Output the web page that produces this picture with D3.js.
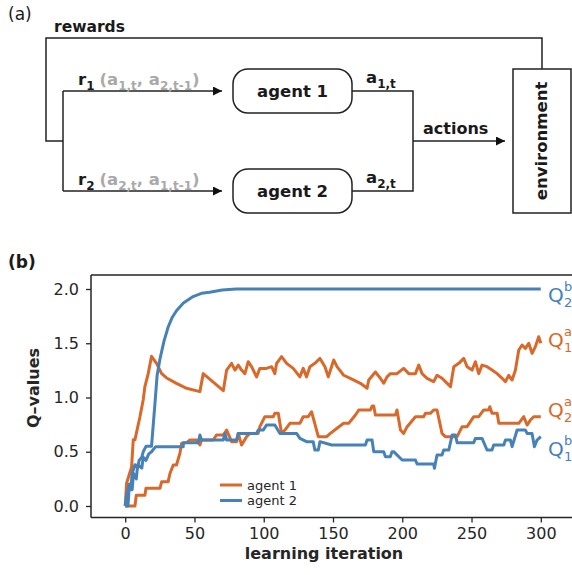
<!DOCTYPE html>
<html><head><meta charset="utf-8">
<script src="https://cdn.jsdelivr.net/npm/d3@7"></script>
<style>body{margin:0;background:#fff}svg{display:block}</style>
</head><body><svg id="c" width="572" height="575"></svg>
<script>
// ---------- data ----------
const iterTicks = [0, 50, 100, 150, 200, 250, 300];
const qTicks = [0, 0.5, 1.0, 1.5, 2.0];
const legendLabels = ["agent 1", "agent 2"];

const q1aIter = [0,1,4.6,5.8,7,10.6,13,14.2,16.6,19,22.6,26.3,29.9,37,44.3,53.9,56.3,70.8,73.2,76.8,79.2,81.6,84,86.4,88.8,91.2,94.8,97.2,102,105.7,108,109.3,112.9,116.5,121.3,126.1,128.5,130.9,133.3,136.9,140.6,144.2,146.6,150.5,152.9,157.7,162.5,169.8,174.6,175.8,180.6,184.2,186.6,189,191.4,196.2,201,204.7,209.5,211.9,214.3,217.9,222.7,225.1,228.7,234.8,237.2,240.8,244.4,246.8,250.4,252.8,255.2,257.6,261.2,264.8,268.5,272.1,274.5,276.9,279.3,281.7,284.1,286.5,288.9,291.3,293.7,296.1,298.5,300];
const q1aVal = [0,0.21,0.36,0.61,0.61,0.82,0.98,1.1,1.22,1.38,1.315,1.22,1.18,1.13,1.085,1.054,1.22,1.063,1.253,1.315,1.253,1.299,1.253,1.22,1.33,1.284,1.19,1.268,1.268,1.284,1.22,1.315,1.377,1.315,1.268,1.19,1.268,1.19,1.284,1.315,1.36,1.284,1.19,1.346,1.284,1.205,1.177,1.131,1.085,1.161,1.235,1.177,1.131,1.19,1.22,1.22,1.268,1.22,1.22,1.299,1.22,1.177,1.146,1.205,1.177,1.1,1.284,1.315,1.36,1.284,1.253,1.33,1.22,1.299,1.284,1.253,1.22,1.177,1.146,1.205,1.161,1.253,1.438,1.484,1.453,1.5,1.407,1.469,1.56,1.5];

const q2aIter = [0,7,8,14.2,15,25.1,26.3,31,32.3,34.7,37,39.5,40.7,44.3,46.7,51.5,53.9,55.1,63.5,65.9,70.8,73.2,76.8,80.4,81.6,84,87.6,90,96,97.2,100.8,106.9,108,110.5,112.9,115.3,118.9,126.1,128.5,132.1,134.5,139.4,145.4,148.1,152.9,157.7,161.3,166.2,168.6,177,178.2,179.4,180.6,195,196.2,198.7,201,203.5,209.5,215.5,216.7,220.3,222.7,225.1,228.7,231.1,239.6,243.2,246.8,251.6,255.2,258.8,262.4,263.2,264.8,268.5,269.7,284.1,287.7,290.1,292.5,294.9,300];
const q2aVal = [0,0,0.1,0.1,0.163,0.163,0.224,0.224,0.3,0.378,0.378,0.486,0.578,0.584,0.608,0.608,0.562,0.608,0.608,0.654,0.654,0.7,0.593,0.593,0.669,0.562,0.639,0.669,0.669,0.731,0.823,0.823,0.854,0.854,0.669,0.7,0.762,0.762,0.823,0.823,0.869,0.639,0.639,0.669,0.716,0.762,0.762,0.839,0.885,0.885,0.922,0.922,0.839,0.839,0.885,0.7,0.669,0.731,0.823,0.823,0.854,0.854,0.885,0.885,0.669,0.639,0.639,0.731,0.731,0.823,0.823,0.885,0.885,0.915,0.854,0.854,0.762,0.762,0.823,0.746,0.792,0.823,0.823];

const q1bIter = [0,2,3,5,6,8,9,12,13,15,17,19,22,41.9,41.9,52.7,53.9,55.1,70.8,72,73.2,80.4,81.6,94.8,96,99.6,102,108,111.7,123.7,126.1,130.9,135.7,136.9,139.4,140.6,149,173.4,174.6,178.2,179.4,186.6,187.8,191.4,192.6,193.8,199.9,209.5,210.7,222.7,223.2,225.1,228.7,229.9,233.6,236,238.4,239.6,251.6,252.8,257.6,261.2,264.8,266,273.3,274.5,278.1,279.3,282.9,288.9,290.1,293.7,295.4,297.3,300];
const q1bVal = [0,0,0.2,0.15,0.3,0.25,0.38,0.35,0.45,0.42,0.48,0.5,0.547,0.547,0.584,0.584,0.654,0.608,0.608,0.669,0.608,0.608,0.669,0.669,0.7,0.7,0.746,0.746,0.669,0.669,0.623,0.593,0.593,0.516,0.516,0.593,0.562,0.562,0.608,0.608,0.501,0.501,0.455,0.455,0.501,0.501,0.424,0.424,0.387,0.387,0.347,0.47,0.47,0.516,0.516,0.654,0.654,0.584,0.584,0.623,0.623,0.516,0.516,0.562,0.562,0.608,0.608,0.547,0.7,0.7,0.669,0.669,0.547,0.608,0.639];

const q2bIter = [0,1,3,4,5,7,9,10,12,13,15,19,21.5,23,25,28,31,34,37,42,49,55,61,70,80,300];
const q2bVal = [0,0.1,0.2,0.15,0.3,0.38,0.35,0.42,0.45,0.5,0.55,0.55,0.95,1.2,1.35,1.52,1.65,1.74,1.8,1.87,1.93,1.96,1.97,1.99,2.0,2.0];

// ---------- style ----------
const ORANGE = "#d9692a", BLUE = "#4682b8", INK = "#262626";
const FONT = "DejaVu Sans";

const svg = d3.select("#c");

// ---------- panel (a): diagram ----------
const dg = svg.append("g").attr("font-family", FONT);
const lineC = "#222";
svg.append("defs").append("marker")
  .attr("id","arr").attr("viewBox","0 0 10 10").attr("refX",10).attr("refY",5)
  .attr("markerWidth",11).attr("markerHeight",9).attr("markerUnits","userSpaceOnUse")
  .attr("orient","auto")
  .append("path").attr("d","M0,0 L10,5 L0,10 Z").attr("fill","#111");

function path(d, arrow){
  const p = dg.append("path").attr("d", d).attr("fill","none")
    .attr("stroke", lineC).attr("stroke-width", 1.5);
  if (arrow) p.attr("marker-end","url(#arr)");
}
// rewards loop
path("M542,70 V38 H46 V141 H63");
path("M63,91 V191");
path("M63,91 H222", true);
path("M63,191 H222", true);
// actions
path("M352,91 H413 V191 H352");
path("M413,141 H505", true);
// boxes
dg.append("rect").attr("x",233).attr("y",69).attr("width",119).attr("height",44)
  .attr("rx",15).attr("fill","#fff").attr("stroke",lineC).attr("stroke-width",1.5);
dg.append("rect").attr("x",233).attr("y",169).attr("width",119).attr("height",44)
  .attr("rx",15).attr("fill","#fff").attr("stroke",lineC).attr("stroke-width",1.5);
dg.append("rect").attr("x",513).attr("y",69).attr("width",58).attr("height",144)
  .attr("fill","#fff").attr("stroke",lineC).attr("stroke-width",1.5);

dg.append("text").attr("x",292.5).attr("y",97).attr("text-anchor","middle")
  .attr("font-size",16.5).attr("font-weight","bold").attr("fill","#1a1a1a").text("agent 1");
dg.append("text").attr("x",292.5).attr("y",197).attr("text-anchor","middle")
  .attr("font-size",16.5).attr("font-weight","bold").attr("fill","#1a1a1a").text("agent 2");
dg.append("text").attr("transform","translate(547,141) rotate(-90)").attr("text-anchor","middle")
  .attr("font-size",16.5).attr("font-weight","bold").attr("fill","#1a1a1a").text("environment");
dg.append("text").attr("x",54).attr("y",32).attr("font-size",15.5).attr("font-weight","bold")
  .attr("fill","#1a1a1a").text("rewards");
dg.append("text").attr("x",423).attr("y",134).attr("font-size",16).attr("font-weight","bold")
  .attr("fill","#1a1a1a").text("actions");
dg.append("text").attr("x",8).attr("y",20).attr("font-size",17).attr("fill","#1a1a1a").text("(a)");

function subLabel(x, y, parts){
  const t = dg.append("text").attr("x", x).attr("y", y).attr("font-weight","bold");
  let cur = 0;
  parts.forEach(p => {
    const ts = t.append("tspan").text(p.t).attr("fill", p.c)
      .attr("font-size", p.sub ? 12 : 16.5);
    const target = p.sub ? 5 : 0;
    ts.attr("dy", target - cur); cur = target;
    if (p.dx) ts.attr("dx", p.dx);
  });
}
const G = "#a9a9a9", K = "#1a1a1a";
subLabel(78, 85, [{t:"r",c:K},{t:"1",c:K,sub:1},{t:"(a",c:G,dx:5},{t:"1,t",c:G,sub:1},{t:", a",c:G},{t:"2,t-1",c:G,sub:1},{t:")",c:G}]);
subLabel(78, 185, [{t:"r",c:K},{t:"2",c:K,sub:1},{t:"(a",c:G,dx:5},{t:"2,t",c:G,sub:1},{t:", a",c:G},{t:"1,t-1",c:G,sub:1},{t:")",c:G}]);
subLabel(366, 83, [{t:"a",c:K},{t:"1,t",c:K,sub:1}]);
subLabel(366, 183, [{t:"a",c:K},{t:"2,t",c:K,sub:1}]);

// ---------- panel (b): chart ----------
const L = 91, R = 575, T = 275, B = 517.5;
const x = d3.scaleLinear().domain([-24.7, 324.7]).range([L, R]);
const y = d3.scaleLinear().domain([-0.106, 2.129]).range([B, T]);

const cg = svg.append("g").attr("font-family", FONT);
cg.append("text").attr("x",8).attr("y",268).attr("font-size",17).attr("font-weight","bold")
  .attr("fill","#1a1a1a").text("(b)");

const ax = cg.append("g").attr("transform",`translate(0,${B})`)
  .call(d3.axisBottom(x).tickValues(iterTicks).tickFormat(d3.format("d")).tickSize(5).tickPadding(5));
const ay = cg.append("g").attr("transform",`translate(${L},0)`)
  .call(d3.axisLeft(y).tickValues(qTicks).tickFormat(d3.format(".1f")).tickSize(5).tickPadding(7));
[ax, ay].forEach(a => {
  a.select(".domain").remove();
  a.selectAll(".tick line").attr("stroke", INK).attr("stroke-width", 1.3);
  a.selectAll(".tick text").attr("fill", INK).attr("font-size", 16).attr("font-family", FONT);
});
// spines
cg.append("path").attr("d",`M${L},${T} H572 M${L},${T} V${B} M${L},${B} H572`)
  .attr("stroke", INK).attr("stroke-width", 1.5).attr("fill","none");

cg.append("text").attr("x",324).attr("y",559).attr("text-anchor","middle")
  .attr("font-size",16).attr("font-weight","bold").attr("fill",INK).text("learning iteration");
cg.append("text").attr("transform","translate(39,388) rotate(-90)").attr("text-anchor","middle")
  .attr("font-size",16).attr("font-weight","bold").attr("fill",INK).text("Q–values");

const line = d3.line().x(d => x(d[0])).y(d => y(d[1]));
const series = [
  {it:q1aIter, v:q1aVal, c:ORANGE},
  {it:q2aIter, v:q2aVal, c:ORANGE},
  {it:q1bIter, v:q1bVal, c:BLUE},
  {it:q2bIter, v:q2bVal, c:BLUE}
];
series.forEach(s => {
  const pts = s.it.map((t,i) => [t, s.v[i]]);
  cg.append("path").datum(pts).attr("d", line).attr("fill","none")
    .attr("stroke", s.c).attr("stroke-width", 3).attr("stroke-linejoin","round");
});

// legend
const lg = cg.append("g");
legendLabels.forEach((lab, i) => {
  const yy = 485 + i*15.5;
  lg.append("line").attr("x1",220).attr("x2",242).attr("y1",yy).attr("y2",yy)
    .attr("stroke", i ? BLUE : ORANGE).attr("stroke-width",3);
  lg.append("text").attr("x",247).attr("y",yy+4.5).attr("font-size",13).attr("fill",INK).text(lab);
});

// Q labels
function qLabel(xx, base, sup, sub, col){
  const g = cg.append("g").attr("fill", col);
  g.append("text").attr("x", xx).attr("y", base).attr("font-size", 20).text("Q");
  g.append("text").attr("x", xx+16).attr("y", base-11).attr("font-size", 13).text(sup);
  g.append("text").attr("x", xx+16).attr("y", base+5).attr("font-size", 13).text(sub);
}
qLabel(548, 302, "b", "2", BLUE);
qLabel(548, 347, "a", "1", ORANGE);
qLabel(548, 417, "a", "2", ORANGE);
qLabel(548, 456, "b", "1", BLUE);
</script></body></html>
